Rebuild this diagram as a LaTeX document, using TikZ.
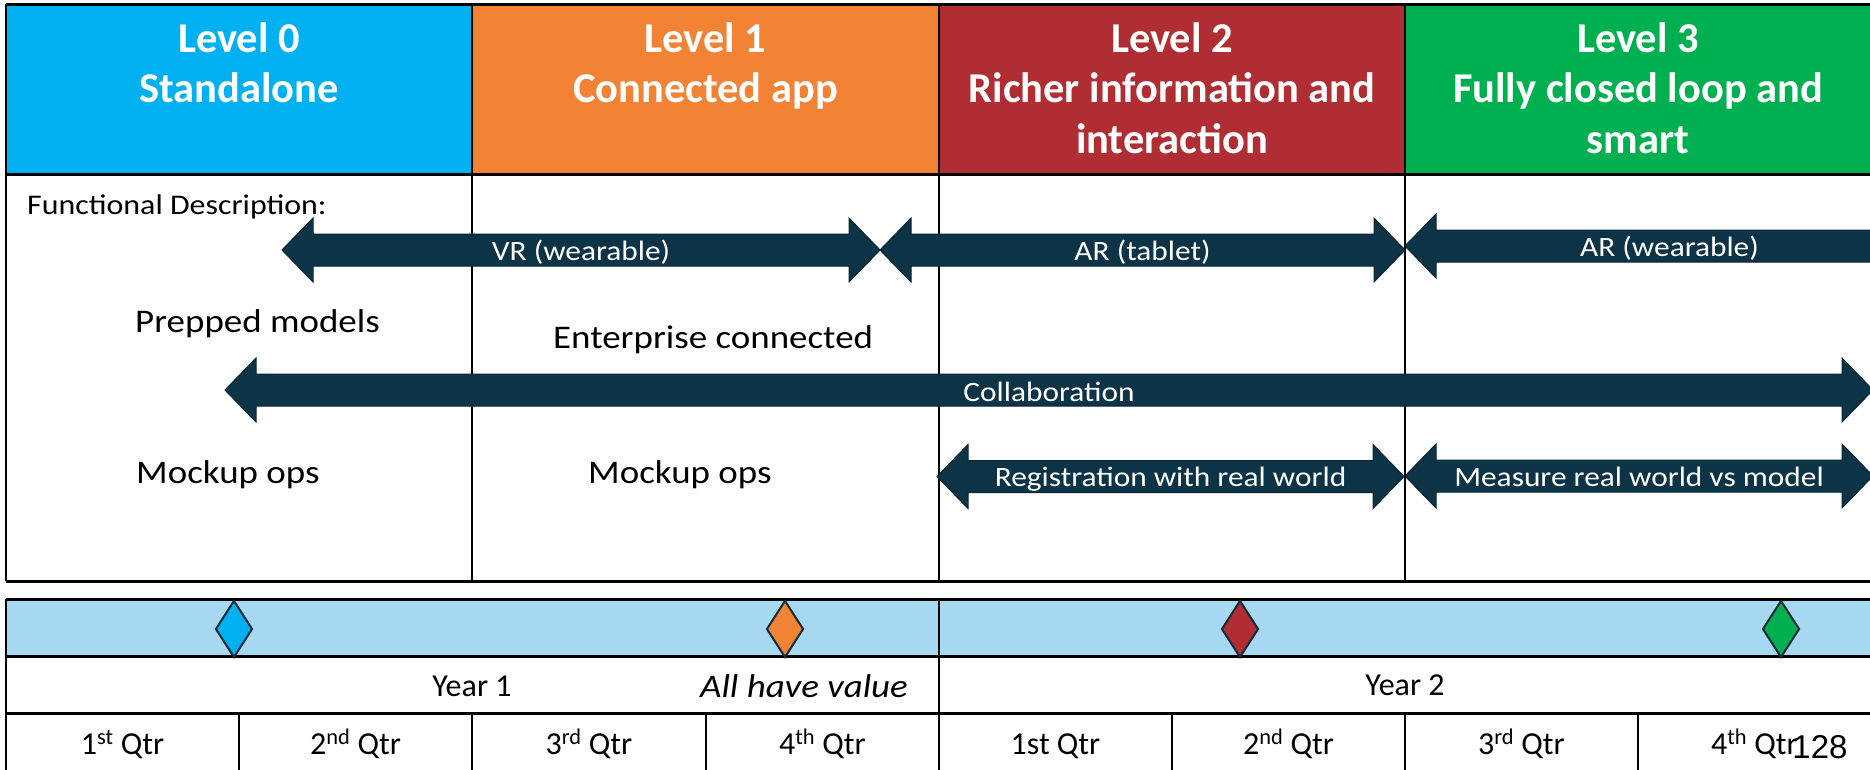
\documentclass[tikz,border=0pt]{standalone}
\usepackage{fontspec}
\setmainfont{Carlito}
\newfontfamily\bodyf{Carlito}[FakeStretch=1.12]
\newfontfamily\numf{Liberation Sans}
\usetikzlibrary{shapes.geometric}
\definecolor{lzero}{HTML}{00B0F0}
\definecolor{lone}{HTML}{F28234}
\definecolor{ltwo}{HTML}{B02E33}
\definecolor{lthree}{HTML}{00B050}
\definecolor{band}{HTML}{A6D9F1}
\definecolor{navy}{HTML}{0C3446}
\definecolor{navyedge}{HTML}{082634}
\definecolor{msedge}{HTML}{14293A}
\tikzset{
  hdr/.style={font=\fontsize{42.5}{50.5}\selectfont\bfseries, text=white, align=center, anchor=north, inner sep=0pt},
  bodytxt/.style={font=\bodyf\fontsize{33}{40}\selectfont, anchor=base west, inner sep=0pt},
  arrlabel/.style={font=\bodyf\fontsize{28}{34}\selectfont, text=white, anchor=base, inner sep=0pt},
  qtr/.style={font=\fontsize{32}{38}\selectfont, anchor=base, inner sep=0pt},
  blockarr/.style={fill=navy, draw=navyedge, line width=1pt, line join=miter},
  hline/.style={line width=3pt},
  vline/.style={line width=2pt},
  ms/.style={diamond, draw=msedge, line width=2pt, minimum width=37pt, minimum height=57pt, aspect=0.65, inner sep=0pt},
}
\newcommand\barrow[6]{%
  \draw[blockarr] (#1,#3) -- ++(31,-32) -- ++(0,16) -- ({#2-31},{#3-16}) -- ++(0,-16)
     -- (#2,#3) -- ++(-31,32) -- ++(0,-16) -- ({#1+31},{#3+16}) -- ++(0,16) -- cycle;
  \node[arrlabel] (#4) at ({(#1+#2)/2},{#3+#6}) {#5};
}
\begin{document}
\begin{tikzpicture}[x=1pt,y=-1pt]
\useasboundingbox (0,0) rectangle (1870,769);
\clip (0,0) rectangle (1870,769);
\fill[white] (0,0) rectangle (1870,769);
% header cells
\fill[lzero] (6,4) rectangle (472,174);
\fill[lone] (472,4) rectangle (939,174);
\fill[ltwo] (939,4) rectangle (1405,174);
\fill[lthree] (1405,4) rectangle (1880,174);
\node[hdr] (h0) at (239,21) {\rule{0pt}{31pt}Level 0\\Standalone};
\node[hdr] (h1) at (705.5,21) {\rule{0pt}{31pt}Level 1\\Connected app};
\node[hdr] (h2) at (1172,21) {\rule{0pt}{31pt}Level 2\\Richer information and\\interaction};
\node[hdr] (h3) at (1638,21) {\rule{0pt}{31pt}Level 3\\Fully closed loop and\\smart};
% main table grid
\draw[hline] (6,4) -- (1880,4);
\draw[hline] (6,174) -- (1880,174);
\draw[hline] (6,581) -- (1880,581);
\foreach \x in {6,472,939,1405,1873} \draw[vline] (\x,4) -- (\x,581);
% timeline grid
\fill[band] (6,599) rectangle (1880,656);
\draw[hline] (6,599) -- (1880,599);
\draw[hline] (6,656) -- (1880,656);
\draw[hline] (6,713) -- (1880,713);
\foreach \x in {6,939,1873} \draw[vline] (\x,599) -- (\x,780);
\foreach \x in {239,472,706,1172,1405,1638} \draw[vline] (\x,713) -- (\x,780);
% body text
\node[bodytxt, font=\bodyf\fontsize{28.5}{34}\selectfont] (fd) at (27,214) {Functional Description:};
\node[bodytxt] (pm) at (135,332) {Prepped models};
\node[bodytxt] (ec) at (553,348) {Enterprise connected};
\node[bodytxt] (mo1) at (136,483) {Mockup ops};
\node[bodytxt] (mo2) at (588,483) {Mockup ops};
% block arrows
\barrow{282}{880}{250}{vr}{VR (wearable)}{10}
\barrow{880}{1405}{250}{art}{AR (tablet)}{10}
\barrow{1405}{1934}{246}{arw}{AR (wearable)}{10}
\barrow{225}{1873}{390}{col}{Collaboration}{11}
\barrow{937}{1404}{476.5}{reg}{Registration with real world}{10}
\barrow{1405}{1873}{476}{mea}{Measure real world vs model}{10}
% milestones
\node[ms, fill=lzero] (m0) at (234,629) {};
\node[ms, fill=lone] (m1) at (785,629) {};
\node[ms, fill=ltwo] (m2) at (1240,629) {};
\node[ms, fill=lthree] (m3) at (1781,629) {};
% years
\node[qtr] (y1) at (472,696) {Year 1};
\node[qtr] (y2) at (1405,695) {Year 2};
\node[font=\bodyf\itshape\fontsize{33}{40}\selectfont, anchor=base, inner sep=0pt] (ahv) at (804,697) {All have value};
% quarters
\node[qtr] (q1) at (122.5,754) {1\textsuperscript{st} Qtr};
\node[qtr] (q2) at (355.5,754) {2\textsuperscript{nd} Qtr};
\node[qtr] (q3) at (589,754) {3\textsuperscript{rd} Qtr};
\node[qtr] (q4) at (822.5,754) {4\textsuperscript{th} Qtr};
\node[qtr] (q5) at (1055.5,754) {1st Qtr};
\node[qtr] (q6) at (1288.5,754) {2\textsuperscript{nd} Qtr};
\node[qtr] (q7) at (1521.5,754) {3\textsuperscript{rd} Qtr};
\node[qtr] (q8) at (1754.5,754) {4\textsuperscript{th} Qtr};
\node[font=\numf\fontsize{33}{38}\selectfont, anchor=base, inner sep=0pt] (pg) at (1820,758) {128};
\end{tikzpicture}
\end{document}
